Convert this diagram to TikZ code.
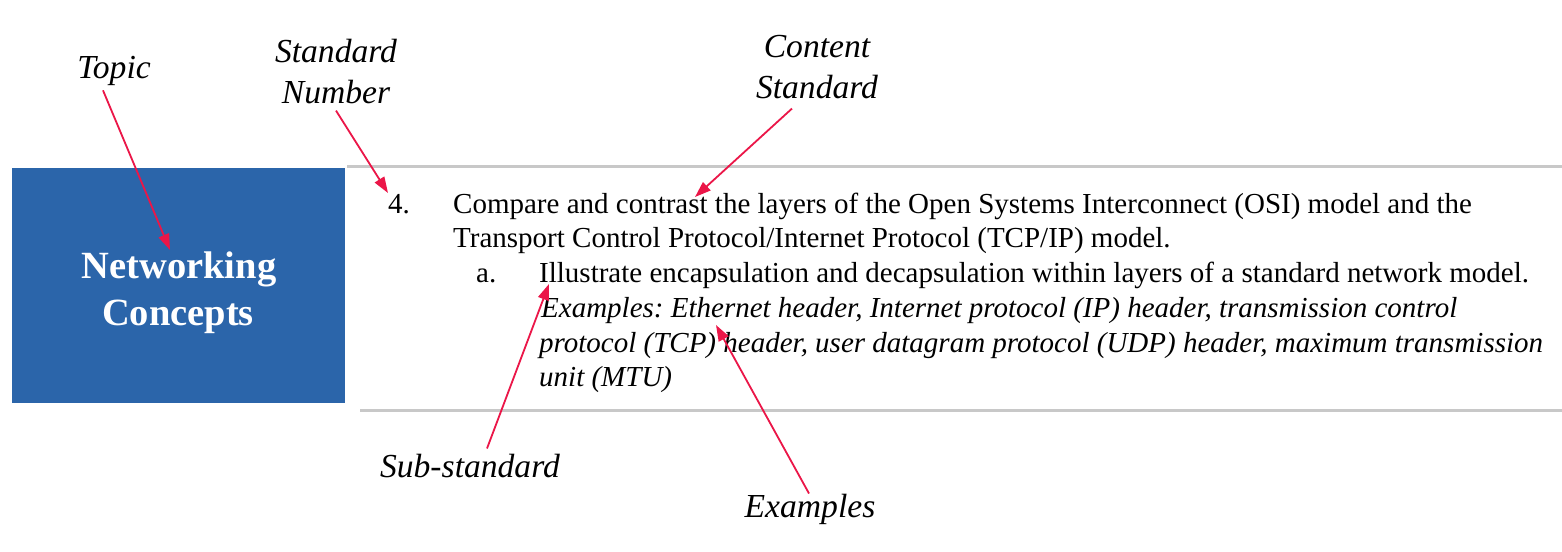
\documentclass[tikz,border=0pt]{standalone}
\usepackage{fontspec}
\setmainfont{Liberation Serif}
\usetikzlibrary{arrows.meta}
\definecolor{boxblue}{RGB}{43,101,170}
\definecolor{arrred}{RGB}{235,22,72}
\definecolor{rulegray}{RGB}{200,200,200}
\frenchspacing
\begin{document}
\begin{tikzpicture}[x=1pt,y=-1pt,
  lbl/.style={font=\itshape\fontsize{33.6}{40}\selectfont, inner sep=0pt, anchor=base},
  body/.style={font=\fontsize{29}{35}\selectfont, inner sep=0pt, anchor=base west},
  bodyit/.style={body, font=\itshape\fontsize{29}{35}\selectfont},
  topictext/.style={font=\bfseries\fontsize{38.5}{46}\selectfont, text=white, inner sep=0pt, anchor=base},
  callout/.style={draw=arrred, line width=1.8pt, -{Triangle[length=16pt,width=11pt]}},
  rulel/.style={draw=rulegray, line width=3pt}]
\useasboundingbox (0,0) rectangle (1562,551);
\fill[white] (0,0) rectangle (1562,551);

% topic box
\node[fill=boxblue, minimum width=333pt, minimum height=235pt, inner sep=0pt, anchor=north west] (box) at (12,168) {};
\node[topictext] (nw1) at (179,278) {Networking};
\node[topictext] (nw2) at (178,325) {Concepts};

% rules
\coordinate (r1a) at (347,166);
\coordinate (r1b) at (1562,166);
\coordinate (r2a) at (360,410);
\coordinate (r2b) at (1562,410);
\draw[rulel] (r1a) -- (r1b);
\draw[rulel] (r2a) -- (r2b);

% standard text
\node[body] (num) at (388,213) {4.};
\node[body] (l1) at (453,213) {Compare and contrast the layers of the Open Systems Interconnect (OSI) model and the};
\node[body] (l2) at (453,247) {Transport Control Protocol/Internet Protocol (TCP/IP) model.};
\node[body] (sa) at (476,282) {a.};
\node[body] (l3) at (539,282) {Illustrate encapsulation and decapsulation within layers of a standard network model.};
\node[bodyit] (l4) at (541,317) {Examples: Ethernet header, Internet protocol (IP) header, transmission control};
\node[bodyit] (l5) at (539,352) {protocol (TCP) header, user datagram protocol (UDP) header, maximum transmission};
\node[bodyit] (l6) at (539,386) {unit (MTU)};

% labels
\node[lbl] (topic) at (114,78) {Topic};
\node[lbl] (std1) at (336,63) {Standard};
\node[lbl] (std2) at (336,103) {Number};
\node[lbl] (con1) at (817,58) {Content};
\node[lbl] (con2) at (817,98) {Standard};
\node[lbl] (sub) at (470,477) {Sub-standard};
\node[lbl] (ex) at (810,517) {Examples};

% tips
\coordinate (tTopic) at (170,250);
\coordinate (tStd) at (388,193);
\coordinate (tCon) at (695,197);
\coordinate (tSub) at (549,284);
\coordinate (tEx) at (716,325);

\draw[callout] ([shift={(-11,5)}]topic.south) -- (tTopic);
\draw[callout] ([shift={(0,7)}]std2.south) -- (tStd);
\draw[callout] ([shift={(-25,10)}]con2.south) -- (tCon);
\draw[callout] ([shift={(17,-5)}]sub.north) -- (tSub);
\draw[callout] ([shift={(-1,0)}]ex.north) -- (tEx);
\end{tikzpicture}
\end{document}
